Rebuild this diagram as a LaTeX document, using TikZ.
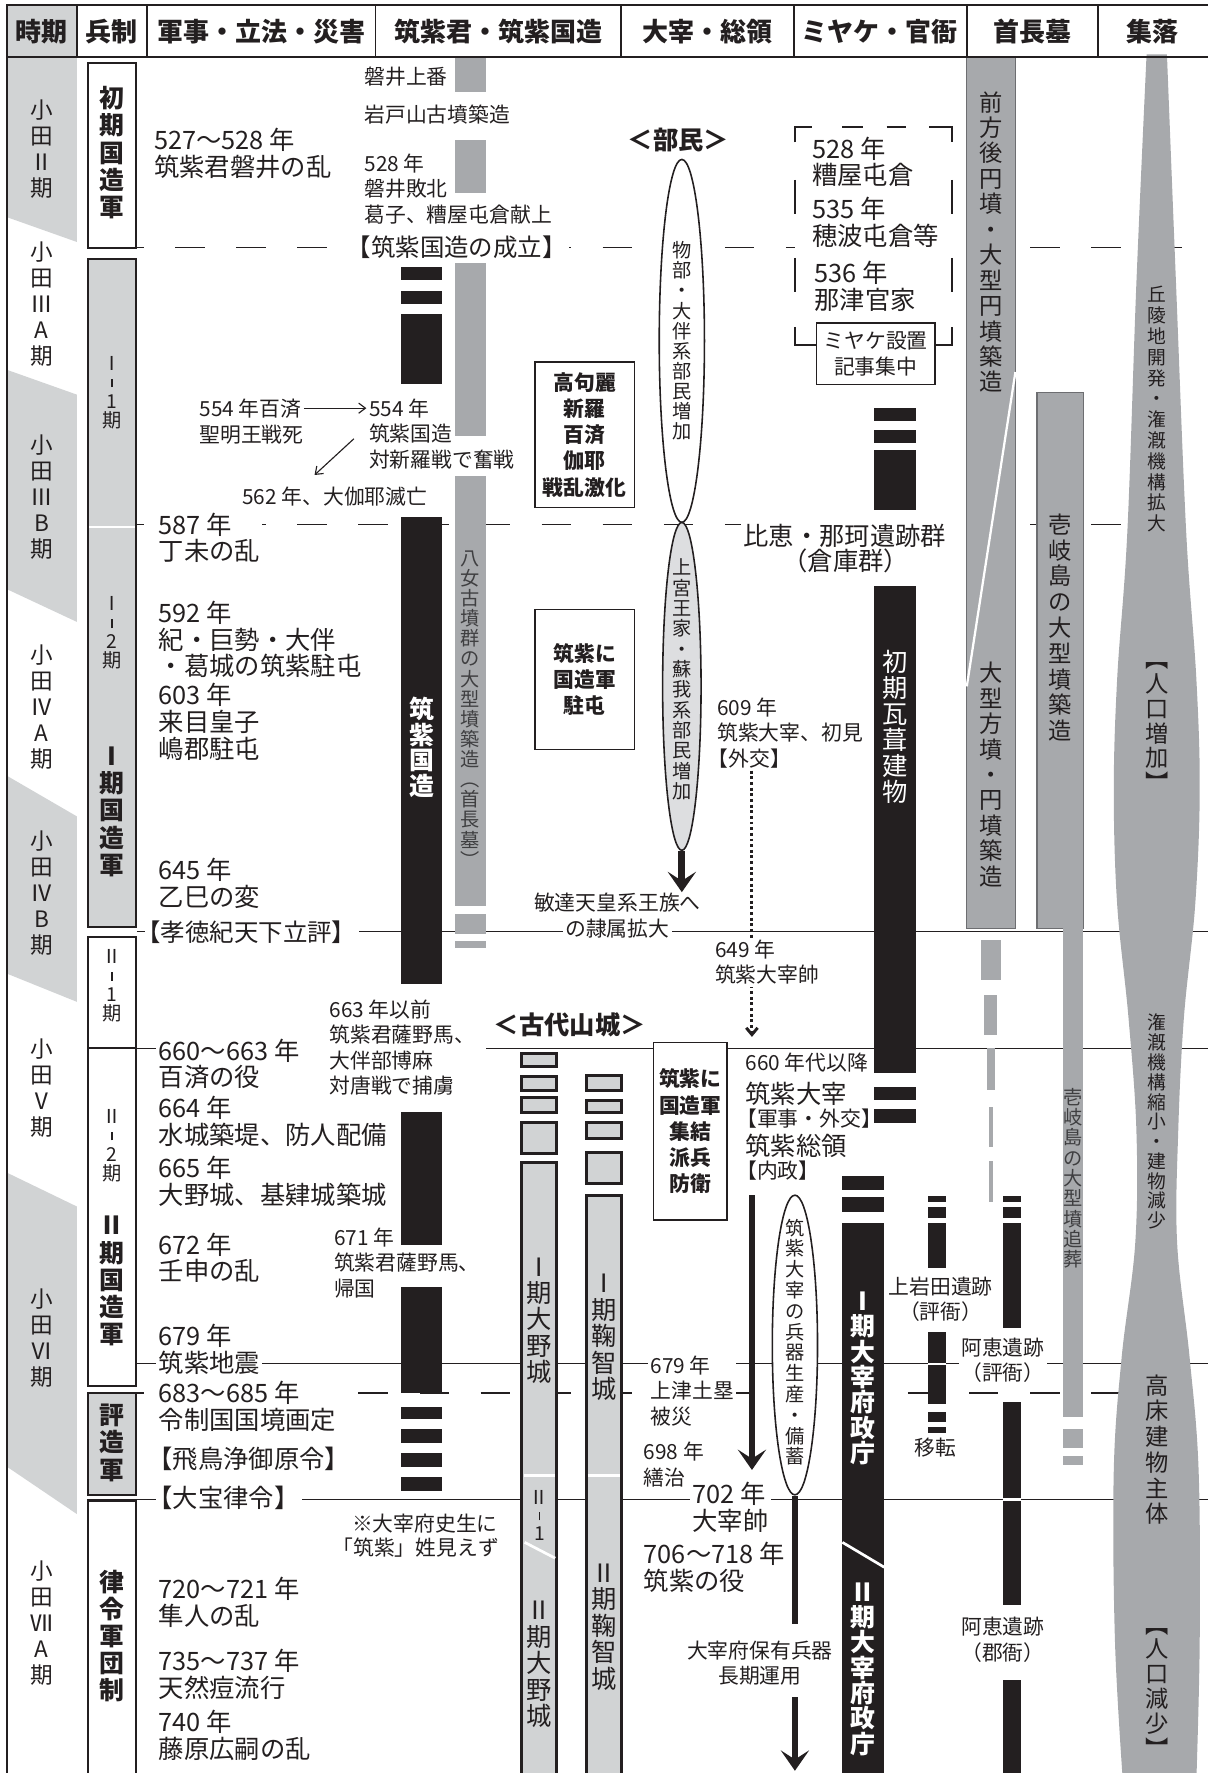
\documentclass[tikz,border=0pt]{standalone}
\usepackage{fontspec}
\setmainfont{Noto Sans CJK JP}
\usetikzlibrary{arrows.meta,shapes.geometric}
\definecolor{ink}{HTML}{231F20}
\definecolor{lgray}{HTML}{D1D3D4}
\definecolor{mgray}{HTML}{A7A9AC}
\definecolor{dgray}{HTML}{6D6E71}
\definecolor{egray}{HTML}{DDDEE0}
\definecolor{tgray}{HTML}{3F3F41}
\newcommand\fM{\fontsize{11.2}{11.8}\selectfont}
\newcommand\fS{\fontsize{9.2}{11.3}\selectfont}
\newcommand\fB{\fontsize{10.8}{12}\selectfont}
\newcommand\fH{\fontsize{11.5}{13}\selectfont\bfseries}
\newcommand\fP{\fontsize{10}{12}\selectfont}
\newcommand\fV{\fontsize{11}{12}\selectfont\bfseries}
\newcommand\fK{\fontsize{9.2}{11.6}\selectfont\bfseries}
\newcommand\fKL{\fontsize{11.2}{12}\selectfont\bfseries}
\newcommand\fT{\fontsize{8.5}{9}\selectfont}
\newcommand\fX{\fontsize{8.3}{9}\selectfont}
\newcommand\fR{\fontsize{10.3}{11}\selectfont}
\newcommand\tk{\rule[0.1em]{0.5pt}{0.45em}}
\makeatletter
\newcommand\vt[2]{\vbox{\baselineskip=#1\relax\lineskiplimit=-\maxdimen\@tfor\vt@c:=#2\do{\hbox to 1.2em{\hss\vt@c\hss}}}}
\makeatother
\begin{document}
\begin{tikzpicture}[x=0.5pt,y=-0.5pt,
  bs/.style={inner sep=1pt, text=ink},
  tM/.style={bs, font=\fM, align=left, anchor=west},
  tS/.style={bs, font=\fS, align=left, anchor=west},
  tB/.style={bs, font=\fB, anchor=west},
  wf/.style={fill=white},
  hdr/.style={bs, font=\fH},
  vnode/.style={bs, inner sep=0pt},
  tlin/.style={draw=ink, line width=0.6pt},
  tldash/.style={tlin, dash pattern=on 13pt off 14pt, dash phase=10pt},
  boxl/.style={draw=ink, line width=0.9pt},
  cas/.style={draw=ink, line width=1.3pt, fill=lgray},
  kbox/.style={draw=ink, line width=0.7pt, fill=white, font=\fK, text=ink, align=center, inner sep=0pt},
  ell/.style={ellipse, draw=ink, line width=0.7pt, inner sep=0pt},
  tarrow/.style={draw=ink, line width=3pt, -{Stealth[length=9pt,width=12.5pt,inset=4pt]}},
  sarrow/.style={draw=ink, line width=0.5pt, -{Straight Barb[length=3pt,width=4.5pt]}},
]
\useasboundingbox (0,0) rectangle (1068,1568);
% ---------- period backgrounds ----------
\fill[lgray] (6,4) rectangle (68,50);
\fill[lgray] (6,50) -- (68,50) -- (68,214) -- (6,192) -- cycle;
\fill[lgray] (6,327) -- (68,349) -- (68,550) -- (6,521) -- cycle;
\fill[lgray] (6,686) -- (68,722) -- (68,886) -- (6,861) -- cycle;
\fill[lgray] (6,1037) -- (68,1067) -- (68,1339) -- (6,1297) -- cycle;
% ---------- timeline lines ----------
\draw[tldash] (121,219) -- (1068,219);
\draw[tldash] (121,464) -- (1068,464);
\draw[tlin] (121,824) -- (1068,824);
\draw[tlin] (121,927) -- (140,927);
\draw[tlin] (430,927) -- (1068,927);
\draw[tlin] (121,1206) -- (1068,1206);
\draw[tldash] (121,1232) -- (1068,1232);
\draw[tlin] (121,1326) -- (1068,1326);
% ---------- military system boxes ----------
\draw[boxl, fill=white] (78,56) rectangle (120,219);
\draw[boxl, fill=lgray] (78,229) rectangle (120,820);
\draw[white, line width=0.9pt] (79,466) -- (119,466);
\draw[boxl, fill=white] (78,829) rectangle (120,1226);
\draw[boxl] (78,927) -- (120,927);
\draw[boxl, fill=lgray] (78,1232) rectangle (120,1322);
\draw[boxl, fill=white] (78,1327) rectangle (120,1600);
% ---------- Yame gray bar ----------
\fill[mgray] (402,50) rectangle (430,81);
\fill[mgray] (402,124) rectangle (430,171);
\fill[mgray] (402,233) rectangle (430,386);
\fill[mgray] (402,421) rectangle (430,801);
\fill[mgray] (402,808) rectangle (430,826);
\fill[mgray] (402,832) rectangle (430,838);
% ---------- Tsukushi kuni no miyatsuko black bar ----------
\fill[ink] (355,236) rectangle (391,248);
\fill[ink] (355,257) rectangle (391,269);
\fill[ink] (355,278) rectangle (391,340);
\fill[ink] (355,457) rectangle (391,870);
\fill[ink] (355,983) rectangle (391,1101);
\fill[ink] (355,1138) rectangle (391,1232);
\fill[ink] (355,1244) rectangle (391,1255);
\fill[ink] (355,1264) rectangle (391,1276);
\fill[ink] (355,1285) rectangle (391,1297);
\fill[ink] (355,1306) rectangle (391,1319);
% ---------- ellipses ----------
\node[ell, fill=white, minimum width=20pt, minimum height=160.5pt] (e1) at (603,301.5) {};
\node[ell, fill=egray, minimum width=17pt, minimum height=145pt] (e2) at (603,607) {};
\node[ell, fill=white, minimum width=20pt, minimum height=132.5pt] (e3) at (703,1189.5) {};
\coordinate (a1e) at (603,789);
\draw[tarrow] (e2.south) -- (a1e);
\coordinate (l3e) at (703,1436);
\draw[ink, line width=3pt] (e3.south) -- (l3e);
\coordinate (a2s) at (665,1057);
\coordinate (a2e) at (665,1300);
\draw[tarrow] (a2s) -- (a2e);
\coordinate (a3s) at (703,1501);
\coordinate (a3e) at (703,1566);
\draw[tarrow] (a3s) -- (a3e);
% ---------- boxes in center ----------
\node[kbox, minimum width=44pt, minimum height=64.5pt] (kb1) at (517,384.5) {高句麗\\新羅\\百済\\伽耶\\戦乱激化};
\node[kbox, minimum width=44pt, minimum height=62pt] (kb2) at (517,601) {筑紫に\\国造軍\\駐屯};
\node[kbox, minimum width=32.5pt, minimum height=78.5pt] (kb3) at (610.5,1000.5) {筑紫に\\国造軍\\集結\\派兵\\防衛};
% ---------- castles ----------
\draw[cas] (461.5,932) rectangle (492.5,943);
\draw[cas] (461.5,952) rectangle (492.5,964);
\draw[cas] (461.5,971) rectangle (492.5,984);
\draw[cas] (461.5,993) rectangle (492.5,1020);
\draw[cas] (461.5,1028) rectangle (492.5,1600);
\draw[cas] (518.5,951) rectangle (549.5,964);
\draw[cas] (518.5,973) rectangle (549.5,984);
\draw[cas] (518.5,993) rectangle (549.5,1007);
\draw[cas] (518.5,1019) rectangle (549.5,1047);
\draw[cas] (518.5,1057) rectangle (549.5,1600);
\draw[white, line width=1.2pt] (463,1305) -- (491,1305);
\draw[white, line width=1.2pt] (520,1305) -- (548,1305);
\draw[white, line width=1.2pt] (464,1364) -- (491,1378);
% ---------- Dazaifu / Hie bars ----------
\fill[ink] (745,1040) rectangle (782,1052);
\fill[ink] (745,1059) rectangle (782,1072);
\fill[ink] (745,1082) rectangle (782,1600);
\draw[white, line width=1.2pt] (745,1364) -- (782,1386);
\fill[ink] (773,361) rectangle (810,372);
\fill[ink] (773,380) rectangle (810,392);
\fill[ink] (773,398) rectangle (810,451);
\fill[ink] (773,518) rectangle (810,949);
\fill[ink] (773,961) rectangle (810,973);
\fill[ink] (773,981) rectangle (810,993);
% ---------- Miyake bracket ----------
\fill[white] (703,112) rectangle (842,305);
\draw[ink, line width=0.8pt] (703,126) -- (703,112) -- (718,112);
\draw[ink, line width=0.8pt] (822,112) -- (842,112) -- (842,126);
\draw[ink, line width=0.8pt] (703,289) -- (703,305) -- (722,305);
\draw[ink, line width=0.8pt] (827,305) -- (842,305) -- (842,289);
\draw[ink, line width=0.8pt] (745,112) -- (763,112) (784,112) -- (801,112);
\draw[ink, line width=0.8pt] (703,159) -- (703,189) (703,228) -- (703,258);
\draw[ink, line width=0.8pt] (842,159) -- (842,189) (842,228) -- (842,258);
\node[draw=ink, line width=0.8pt, fill=white, minimum width=52.5pt, minimum height=27pt, inner sep=0pt, font=\fS, text=ink, align=center] (mbox) at (774.5,313) {ミヤケ設置\\記事集中};
% ---------- chief tombs ----------
\draw[fill=mgray, draw=dgray, line width=0.6pt] (855,50) rectangle (898,821);
\draw[white, line width=1pt] (898,329) -- (855,607);
\draw[fill=mgray, draw=dgray, line width=0.6pt] (917,347) rectangle (958,821);
\fill[mgray] (868,831) rectangle (885,867);
\fill[mgray] (870,880) rectangle (882,915);
\fill[mgray] (873,927) rectangle (880,964);
\fill[mgray] (875,979) rectangle (878,1014);
\fill[mgray] (875,1027) rectangle (878,1063);
\fill[mgray] (940,821) rectangle (958,1253);
\fill[mgray] (940,1264) rectangle (958,1281);
\fill[mgray] (940,1288) rectangle (958,1296);
\fill[ink] (821,1058) rectangle (837,1063);
\fill[ink] (821,1067) rectangle (837,1077);
\fill[ink] (821,1082) rectangle (837,1121);
\fill[ink] (821,1178) rectangle (837,1242);
\draw[white, line width=1pt] (821,1206) -- (837,1206);
\fill[ink] (821,1249) rectangle (837,1258);
\fill[ink] (821,1262) rectangle (837,1267);
\fill[ink] (887,1058) rectangle (903,1063);
\fill[ink] (887,1067) rectangle (903,1077);
\fill[ink] (887,1082) rectangle (903,1174);
\fill[ink] (887,1240) rectangle (903,1419);
\draw[white, line width=1pt] (887,1326) -- (903,1326);
\fill[ink] (887,1486) rectangle (903,1600);
% ---------- settlement shape ----------
\fill[mgray] plot[smooth, tension=0.6] coordinates {(1014,48) (1005,250) (997,470) (988,600) (985,700) (988,800) (998,900) (1005,1000) (1004,1099) (992,1200) (985,1300) (986,1450) (993,1575)}
  -- plot[smooth, tension=0.6] coordinates {(1058,1575) (1061,1450) (1060,1300) (1052,1200) (1041,1099) (1042,1000) (1047,900) (1057,800) (1061,700) (1058,600) (1049,470) (1040,250) (1032,48)} -- cycle;
% ---------- frame ----------
\draw[ink, line width=0.9pt] (6,1575) -- (6,4) -- (1068,4);
\draw[ink, line width=0.9pt] (6,50) -- (1068,50);
\foreach \xx in {68,130,332,549,702,855,971} \draw[ink, line width=0.7pt] (\xx,4) -- (\xx,50);
% ---------- header ----------
\node[hdr] (h1) at (37,28) {時期};
\node[hdr] (h2) at (99,28) {兵制};
\node[hdr] (h3) at (231,28) {軍事・立法・災害};
\node[hdr] (h4) at (441,28) {筑紫君・筑紫国造};
\node[hdr] (h5) at (626,28) {大宰・総領};
\node[hdr] (h6) at (778,28) {ミヤケ・官衙};
\node[hdr] (h7) at (913,28) {首長墓};
\node[hdr] (h8) at (1019,28) {集落};
% ---------- periods ----------
\node[vnode, font=\fP] (p2) at (37,132) {\vt{11.5pt}{小田Ⅱ期}};
\node[vnode, font=\fP] (p3a) at (37,269) {\vt{11.5pt}{小田ⅢA期}};
\node[vnode, font=\fP] (p3b) at (37,440) {\vt{11.5pt}{小田ⅢB期}};
\node[vnode, font=\fP] (p4a) at (37,625) {\vt{11.5pt}{小田ⅣA期}};
\node[vnode, font=\fP] (p4b) at (37,790) {\vt{11.5pt}{小田ⅣB期}};
\node[vnode, font=\fP] (p5) at (37,962) {\vt{11.5pt}{小田Ⅴ期}};
\node[vnode, font=\fP] (p6) at (37,1183) {\vt{11.5pt}{小田Ⅵ期}};
\node[vnode, font=\fP] (p7) at (37,1435) {\vt{11.5pt}{小田ⅦA期}};
% ---------- military system labels ----------
\node[vnode, font=\fV] (b1) at (99,135) {\vt{12pt}{初期国造軍}};
\node[vnode, font=\fT] (b2a) at (99,347) {\vt{8.4pt}{Ⅰ\tk1期}};
\node[vnode, font=\fT] (b2b) at (99,560) {\vt{8.4pt}{Ⅰ\tk2期}};
\node[vnode, font=\fV] (b2) at (99,718) {\vt{12pt}{Ⅰ期国造軍}};
\node[vnode, font=\fT] (b3a) at (99,872) {\vt{8.4pt}{Ⅱ\tk1期}};
\node[vnode, font=\fT] (b3b) at (99,1013) {\vt{8.4pt}{Ⅱ\tk2期}};
\node[vnode, font=\fV] (b3) at (99,1133) {\vt{12pt}{Ⅱ期国造軍}};
\node[vnode, font=\fV] (b4) at (99,1276) {\vt{12pt}{評造軍}};
\node[vnode, font=\fV] (b5) at (99,1447) {\vt{12pt}{律令軍団制}};
% ---------- military / law / disaster ----------
\node[tM] (t1) at (134,136) {527～528 年\\筑紫君磐井の乱};
\node[tM, wf] (t2) at (138,475.5) {587 年\\丁未の乱};
\node[tM] (t3) at (138,565.5) {592 年\\紀・巨勢・大伴\\・葛城の筑紫駐屯};
\node[tM] (t4) at (138,638.5) {603 年\\来目皇子\\嶋郡駐屯};
\node[tM] (t5) at (138,781) {645 年\\乙巳の変};
\node[tB, wf] (t6) at (128,824) {\kern-0.45em【孝徳紀天下立評】};
\node[tM, wf] (t7) at (138,941) {660～663 年\\百済の役};
\node[tM] (t8) at (138,991.5) {664 年\\水城築堤、防人配備};
\node[tM] (t9) at (138,1045) {665 年\\大野城、基肄城築城};
\node[tM] (t10) at (138,1112.5) {672 年\\壬申の乱};
\node[tM, wf] (t11) at (138,1193.5) {679 年\\筑紫地震};
\node[tM, wf] (t12) at (138,1244) {683～685 年\\令制国国境画定};
\node[tM] (t13) at (138,1290) {\kern-0.45em【飛鳥浄御原令】};
\node[tM, wf] (t14) at (138,1325) {\kern-0.45em【大宝律令】};
\node[tM] (t15) at (138,1417) {720～721 年\\隼人の乱};
\node[tM] (t16) at (138,1480.5) {735～737 年\\天然痘流行};
\node[tM] (t17) at (138,1535) {740 年\\藤原広嗣の乱};
% ---------- Tsukushi no kimi column ----------
\node[tS] (s1) at (320,68) {磐井上番};
\node[tS] (s2) at (320,101) {岩戸山古墳築造};
\node[tS] (s3) at (320,167) {528 年\\磐井敗北\\葛子、糟屋屯倉献上};
\node[tB, wf] (s0) at (314,219) {\kern-0.45em【筑紫国造の成立】};
\node[tS] (s4) at (174,361) {554 年百済};
\node[tS] (s5) at (174,384) {聖明王戦死};
\node[tS] (s6) at (324,361) {554 年};
\node[tS] (s7) at (324,395) {筑紫国造\\対新羅戦で奮戦};
\node[tS] (s8) at (212,439) {562 年、大伽耶滅亡};
\draw[sarrow] (s4) -- (s6);
\draw[sarrow] ([shift={(-11,-7)}]s7.west) -- ([shift={(-18,-8)}]s8.north);
\node[tS] (s9) at (289,926.5) {663 年以前\\筑紫君薩野馬、\\大伴部博麻\\対唐戦で捕虜};
\node[tS] (s10) at (293,1117) {671 年\\筑紫君薩野馬、\\帰国};
\node[tS] (s11) at (309,1347) {※大宰府史生に};
\node[tS] (s12) at (300,1369) {\kern-0.45em「筑紫」姓見えず};
\node[vnode, font=\fV, text=white] (kz) at (373,661) {\vt{11.35pt}{筑紫国造}};
\node[vnode, font=\fT, text=tgray] (ym) at (416,627) {\vt{8.9pt}{八女古墳群の大型墳築造︵首長墓︶}};
% ---------- Dazai column ----------
\node[bs, font=\fKL] (bm) at (600,124) {＜部民＞};
\node[vnode, font=\fT] (e1t) at (e1) {\vt{8.9pt}{物部・大伴系部民増加}};
\node[vnode, font=\fT] (e2t) at (603,601) {\vt{9pt}{上宮王家・蘇我系部民増加}};
\node[vnode, font=\fT] (e3t) at (703,1187) {\vt{9.2pt}{筑紫大宰の兵器生産・備蓄}};
\node[tS, anchor=center] (sd1) at (546,798) {敏達天皇系王族へ};
\node[tS, anchor=center, wf] (sd2) at (546,821) {の隷属拡大};
\node[tS] (n609) at (632,648) {609 年\\筑紫大宰、初見\\\kern-0.45em【外交】};
\coordinate (dotx) at (665,917);
\draw[ink, line width=1.3pt, dash pattern=on 1.3pt off 1.2pt, -{Straight Barb[length=3pt,width=5pt]}] (dotx |- n609.south) -- (dotx);
\node[tS, wf] (n649) at (630,851) {649 年\\筑紫大宰帥};
\node[bs, font=\fKL] (kd) at (504,906) {＜古代山城＞};
\node[tS] (n660) at (657,940) {660 年代以降};
\node[tM] (n660b) at (657,967) {筑紫大宰};
\node[tS] (n660c) at (657,989) {\kern-0.45em【軍事・外交】};
\node[tM] (n660d) at (657,1013) {筑紫総領};
\node[tS] (n660e) at (657,1035) {\kern-0.45em【内政】};
\node[tS, wf] (n679) at (573,1230) {679 年\\上津土塁\\被災};
\node[tS] (n698) at (567,1295) {698 年\\繕治};
\node[tM, wf] (n702) at (610,1333) {702 年\\大宰帥};
\node[tM] (n706) at (567,1386) {706～718 年\\筑紫の役};
\node[tS, anchor=center, align=center] (nhold) at (672,1471) {大宰府保有兵器\\長期運用};
\node[vnode, font=\fM] (c1) at (477,1168) {\vt{11.7pt}{Ⅰ期大野城}};
\node[vnode, font=\fT] (c1b) at (477,1340) {\vt{8pt}{Ⅱ\tk1}};
\node[vnode, font=\fM] (c2) at (477,1472) {\vt{11.7pt}{Ⅱ期大野城}};
\node[vnode, font=\fM] (c3) at (534,1183) {\vt{11.7pt}{Ⅰ期鞠智城}};
\node[vnode, font=\fM] (c4) at (534,1439) {\vt{11.7pt}{Ⅱ期鞠智城}};
% ---------- Miyake column ----------
\node[tM] (m1) at (716,143) {528 年\\糟屋屯倉};
\node[tM] (m2) at (716,196.5) {535 年\\穂波屯倉等};
\node[tM] (m3) at (718,253) {536 年\\那津官家};
\node[tM, wf] (hie) at (655,474) {比恵・那珂遺跡群};
\node[tM, anchor=center] (hie2) at (748,496) {（倉庫群）};
\node[vnode, font=\fM, text=white] (kw) at (791.5,643) {\vt{11.5pt}{初期瓦葺建物}};
\node[vnode, font=\fV, text=white] (dz1) at (763.5,1219) {\vt{11.2pt}{Ⅰ期大宰府政庁}};
\node[vnode, font=\fV, text=white] (dz2) at (763.5,1476) {\vt{11.2pt}{Ⅱ期大宰府政庁}};
% ---------- chief tomb texts ----------
\node[vnode, font=\fR] (zt1) at (876.5,214) {\vt{11.25pt}{前方後円墳・大型円墳築造}};
\node[vnode, font=\fR] (zt2) at (876.5,685) {\vt{11.25pt}{大型方墳・円墳築造}};
\node[vnode, font=\fR] (zt3) at (937.5,555) {\vt{11.4pt}{壱岐島の大型墳築造}};
\node[vnode, font=\fT, text=tgray] (zt4) at (949,1042) {\vt{9pt}{壱岐島の大型墳追葬}};
\node[tS, anchor=center, align=center] (kiw) at (832,1149) {上岩田遺跡\\（評衙）};
\node[tS, anchor=center] (iten) at (827,1280) {移転};
\node[tS, anchor=center, align=center, wf] (ae1) at (887,1203) {阿恵遺跡\\（評衙）};
\node[tS, anchor=center, align=center] (ae2) at (887,1450) {阿恵遺跡\\（郡衙）};
% ---------- settlement texts ----------
\node[vnode, font=\fX] (st1) at (1023,362) {\vt{9.2pt}{丘陵地開発・潅漑機構拡大}};
\node[vnode, font=\fR] (st2) at (1023,643) {\vt{11pt}{︻人口増加︼}};
\node[vnode, font=\fX] (st3) at (1023,992) {\vt{8.75pt}{潅漑機構縮小・建物減少}};
\node[vnode, font=\fR] (st4) at (1023,1282) {\vt{11.4pt}{高床建物主体}};
\node[vnode, font=\fR] (st5) at (1023,1497) {\vt{11pt}{︻人口減少︼}};
\end{tikzpicture}
\end{document}
